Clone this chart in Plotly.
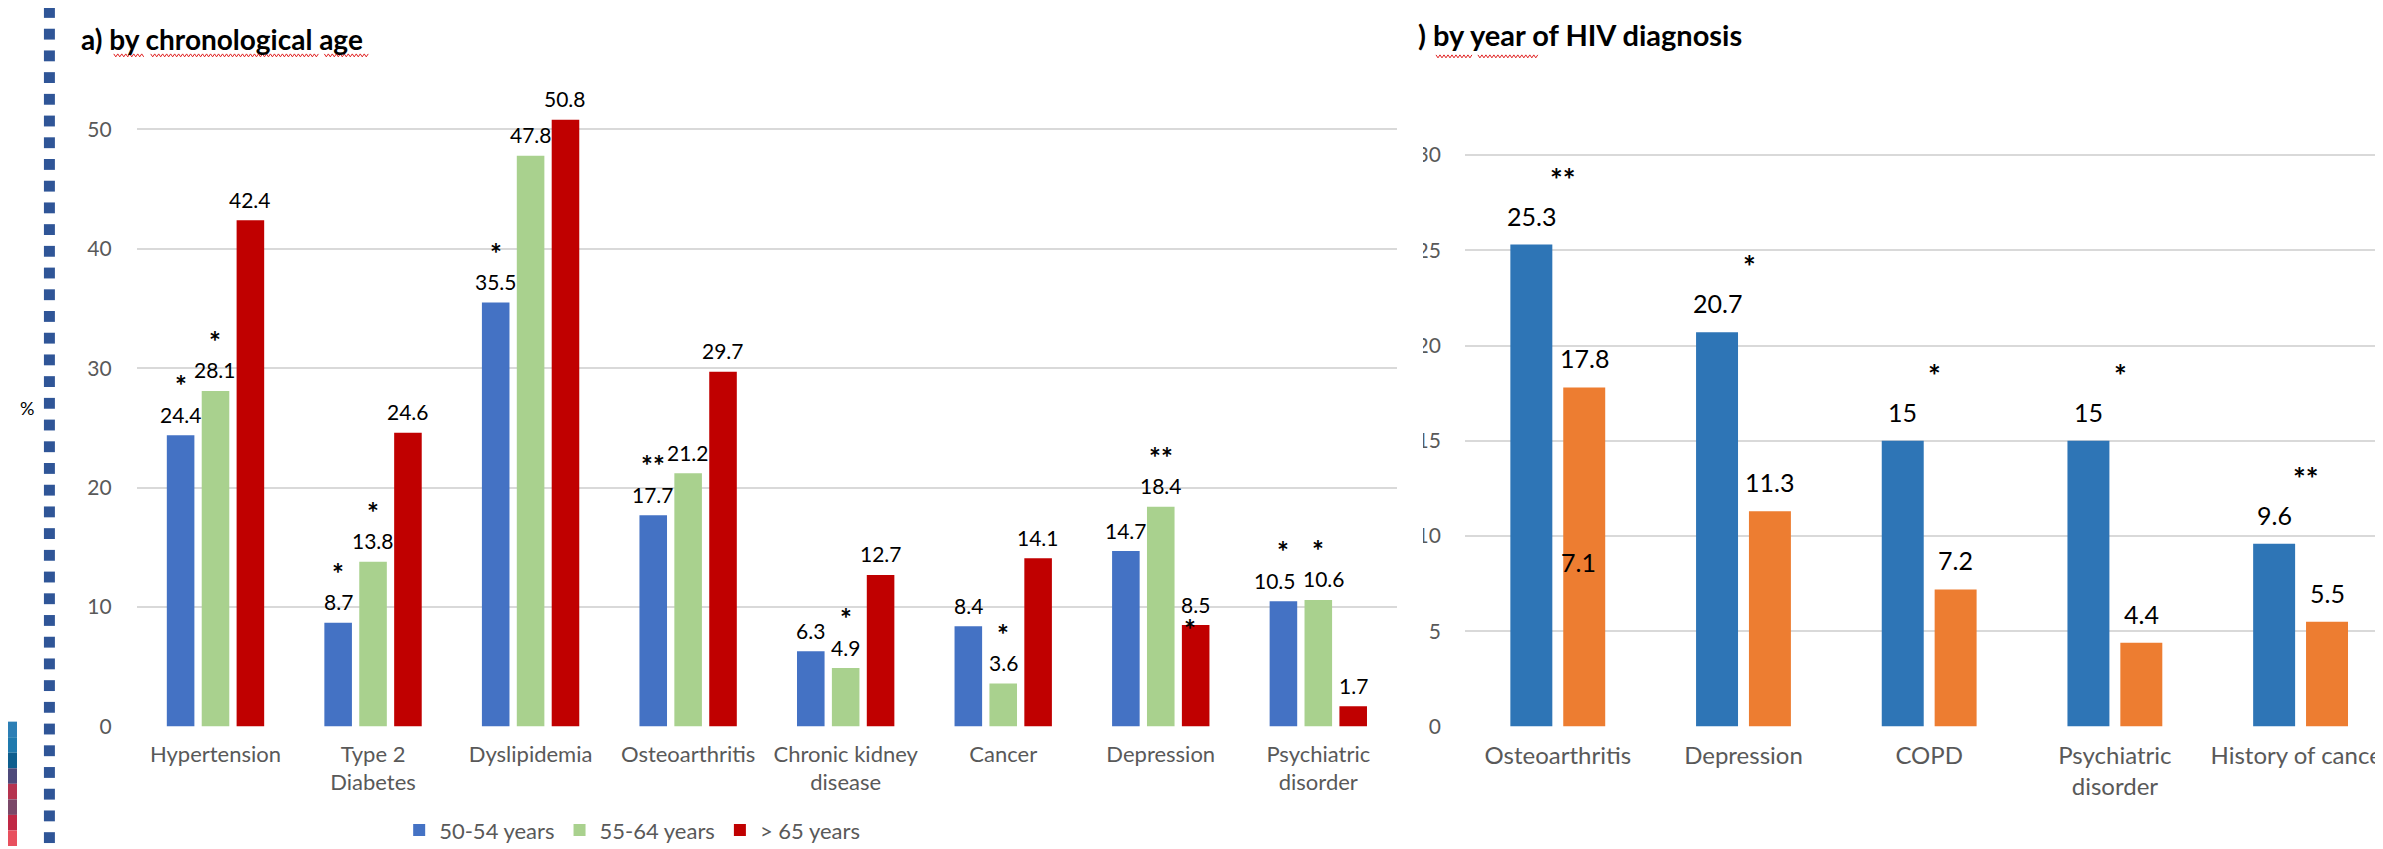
import plotly.graph_objects as go

W, H = 2383, 849

# ---------------- data: panel a) by chronological age ----------------
age_categories = ["Hypertension", "Type 2<br>Diabetes", "Dyslipidemia", "Osteoarthritis",
                  "Chronic kidney<br>disease", "Cancer", "Depression", "Psychiatric<br>disorder"]
age_groups = ["50-54 years", "55-64 years", "> 65 years"]
age_50_54 = [24.4, 8.7, 35.5, 17.7, 6.3, 8.4, 14.7, 10.5]
age_55_64 = [28.1, 13.8, 47.8, 21.2, 4.9, 3.6, 18.4, 10.6]
age_65_plus = [42.4, 24.6, 50.8, 29.7, 12.7, 14.1, 8.5, 1.7]
sig_50_54 = ["*", "*", "*", "**", "", "", "", "*"]
sig_55_64 = ["*", "*", "", "", "*", "*", "**", "*"]
sig_65_plus = ["", "", "", "", "", "", "*", ""]
age_ticks = [0, 10, 20, 30, 40, 50]

# ---------------- data: panel b) by year of HIV diagnosis ----------------
hiv_categories = ["Osteoarthritis", "Depression", "COPD", "Psychiatric<br>disorder", "History of cancer"]
hiv_group_1 = [25.3, 20.7, 15, 15, 9.6]
hiv_group_2 = [17.8, 11.3, 7.2, 4.4, 5.5]
hiv_sig = ["**", "*", "*", "*", "**"]
hiv_stray_label_2 = [7.1, None, None, None, None]   # extra label visible inside the first orange bar
hiv_ticks = [0, 5, 10, 15, 20, 25, 30]

# ---------------- styling ----------------
FONT = "Lato, 'Open Sans', sans-serif"
GRID = "#D9D9D9"
TICK = "#595959"
A_COLORS = ["#4472C4", "#A9D18E", "#C00000"]
B_COLORS = ["#2E75B6", "#ED7D31"]

A_X0, A_X1 = 129, 1392
B_X0 = 1460
BASE_Y, TOP_Y = 728, 63
A_PX_PER_UNIT = 12.1
B_PX_PER_UNIT = 19.3

a_slot, a_width = 0.2215, 0.175
b_slot, b_width = 0.1424, 0.226
# horizontal nudges (px) for crowded value labels: (series index, category index) -> px
a_label_nudge = {(0, 7): -8, (1, 7): 6}


def fx(p):
    return p / W


def fy(p):
    return 1 - p / H


fig = go.Figure()

# ---- panel a bars ----
a_series = [(age_groups[0], age_50_54, sig_50_54),
            (age_groups[1], age_55_64, sig_55_64),
            (age_groups[2], age_65_plus, sig_65_plus)]
for k, (name, vals, sig) in enumerate(a_series):
    off = (k - 1) * a_slot
    xs = [i + off for i in range(len(age_categories))]
    fig.add_trace(go.Bar(x=xs, y=vals, width=a_width, name=name,
                         marker=dict(color=A_COLORS[k], line=dict(width=0)),
                         xaxis="x", yaxis="y", hoverinfo="skip"))
    for i, (x, v, s) in enumerate(zip(xs, vals, sig)):
        fig.add_annotation(x=x, y=v, xref="x", yref="y", text=f"{v:g}", showarrow=False,
                           xshift=a_label_nudge.get((k, i), 0),
                           yshift=21, font=dict(size=21, color="black", family=FONT))
        if s:
            if k == 2:
                fig.add_annotation(x=x, y=v, xref="x", yref="y", text=f"<b>{s}</b>", showarrow=False,
                                   xshift=-6, yshift=-4, font=dict(size=28, color="black", family=FONT))
            else:
                fig.add_annotation(x=x, y=v, xref="x", yref="y", text=f"<b>{s}</b>", showarrow=False,
                                   yshift=50, font=dict(size=28, color="black", family=FONT))

# ---- panel b bars ----
b_series = [("Group 1", hiv_group_1), ("Group 2", hiv_group_2)]
for k, (name, vals) in enumerate(b_series):
    off = (k - 0.5) * 2 * b_slot
    xs = [i + off for i in range(len(hiv_categories))]
    fig.add_trace(go.Bar(x=xs, y=vals, width=b_width, name=name, showlegend=False,
                         marker=dict(color=B_COLORS[k], line=dict(width=0)),
                         xaxis="x2", yaxis="y2", hoverinfo="skip"))
    for x, v in zip(xs, vals):
        fig.add_annotation(x=x, y=v, xref="x2", yref="y2", text=f"{v:g}", showarrow=False,
                           yshift=29, font=dict(size=25, color="black", family=FONT))

for i, (s, v) in enumerate(zip(hiv_sig, hiv_group_1)):
    fig.add_annotation(x=i + 0.03, y=v, xref="x2", yref="y2", text=f"<b>{s}</b>", showarrow=False,
                       yshift=66, font=dict(size=30, color="black", family=FONT))

for i, v in enumerate(hiv_stray_label_2):
    if v is not None:
        fig.add_annotation(x=i + b_slot - 0.03, y=v, xref="x2", yref="y2", text=f"{v:g}",
                           showarrow=False, yshift=29, font=dict(size=25, color="black", family=FONT))

# ---- titles and axis label ----
fig.add_annotation(x=fx(71), y=fy(31), xref="paper", yref="paper", xanchor="left", yanchor="middle",
                   text="<b>a) by chronological age</b>", showarrow=False,
                   font=dict(size=28, color="black", family=FONT))
fig.add_annotation(x=fx(1411), y=fy(27), xref="paper", yref="paper", xanchor="left", yanchor="middle",
                   text="<b>) by year of HIV diagnosis</b>", showarrow=False,
                   font=dict(size=29, color="black", family=FONT))
fig.add_annotation(x=fx(19), y=fy(405), xref="paper", yref="paper", xanchor="center", yanchor="middle",
                   text="%", showarrow=False, font=dict(size=18, color="black", family=FONT))

# ---- decorations ----
shapes = []
for k in range(40):
    y0 = 22 * k - 1
    shapes.append(dict(type="rect", xref="paper", yref="paper", x0=fx(36), x1=fx(47),
                       y0=fy(y0), y1=fy(y0 + 11), fillcolor="#2F5597", line=dict(width=0)))
strip = ["#2C7FB5", "#1F7AAE", "#0E5E8E", "#4E4A7A", "#B5334F", "#7A4868", "#C02845", "#E8505E"]
seg = (H - 723) / len(strip)
for j, c in enumerate(strip):
    shapes.append(dict(type="rect", xref="paper", yref="paper", x0=0, x1=fx(9),
                       y0=fy(723 + j * seg), y1=fy(723 + (j + 1) * seg), fillcolor=c, line=dict(width=0)))
# crop edge of panel b (hides the left part of its tick labels)
shapes.append(dict(type="rect", xref="paper", yref="paper", x0=fx(1393), x1=fx(1418),
                   y0=0, y1=1, fillcolor="#FFFFFF", opacity=1,
                   line=dict(width=0, color="rgba(0,0,0,0)"), layer="above"))


def zigzag(x0, x1, y):
    pts = []
    x = x0
    up = True
    while x <= x1:
        pts.append(f"{fx(x):.5f},{fy(y - 1.5 if up else y + 1.5):.5f}")
        x += 2
        up = not up
    return "M" + " L".join(pts)


for (x0, x1, y) in [(106, 137, 48), (143, 312, 48), (317, 362, 48), (1431, 1468, 49), (1473, 1534, 49)]:
    shapes.append(dict(type="path", xref="paper", yref="paper", path=zigzag(x0, x1, y),
                       line=dict(color="#E02020", width=1)))

fig.update_layout(
    width=W, height=H, margin=dict(l=0, r=0, t=0, b=0),
    paper_bgcolor="white", plot_bgcolor="white",
    barmode="overlay", shapes=shapes,
    font=dict(family=FONT, color=TICK),
    xaxis=dict(domain=[fx(A_X0), fx(A_X1)], range=[-0.5, 7.5], tickvals=list(range(len(age_categories))),
               ticktext=age_categories, showgrid=False, zeroline=False, showline=False, ticks="",
               tickfont=dict(size=22, color=TICK, family=FONT), ticklabelstandoff=12, anchor="y"),
    yaxis=dict(domain=[fy(BASE_Y), fy(TOP_Y)], range=[0, (BASE_Y - TOP_Y) / A_PX_PER_UNIT],
               tickvals=age_ticks, showgrid=True, gridcolor=GRID, gridwidth=1.5, zeroline=False,
               showline=False, ticks="", tickfont=dict(size=21, color=TICK, family=FONT),
               ticklabelstandoff=24, anchor="x"),
    xaxis2=dict(domain=[fx(B_X0), 1.0], range=[-0.5, 4.46], tickvals=list(range(len(hiv_categories))),
                ticktext=hiv_categories, showgrid=False, zeroline=False, showline=False, ticks="",
                tickfont=dict(size=24, color=TICK, family=FONT), ticklabelstandoff=12, anchor="y2",
                ticklabeloverflow="allow"),
    yaxis2=dict(domain=[fy(BASE_Y), fy(TOP_Y)], range=[0, (BASE_Y - TOP_Y) / B_PX_PER_UNIT],
                tickvals=hiv_ticks, showgrid=True, gridcolor=GRID, gridwidth=1.5, zeroline=False,
                showline=False, ticks="", tickfont=dict(size=21, color=TICK, family=FONT),
                ticklabelstandoff=23, anchor="x2"),
    legend=dict(orientation="h", x=fx(392), y=fy(833), xanchor="left", yanchor="middle",
                font=dict(size=22, color=TICK, family=FONT), bgcolor="rgba(0,0,0,0)"),
    showlegend=True,
)

fig.write_html("out.html")
